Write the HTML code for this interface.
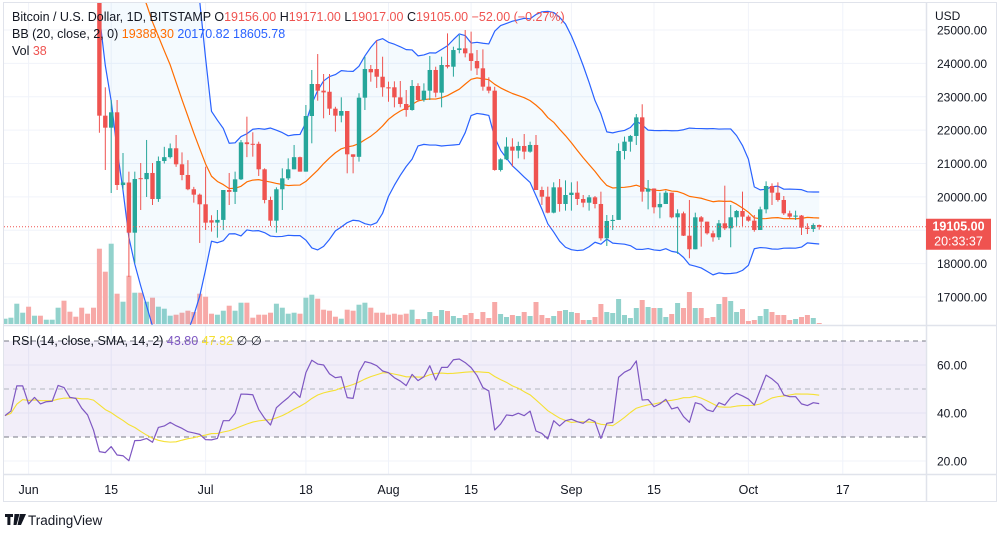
<!DOCTYPE html>
<html><head><meta charset="utf-8"><title>BTCUSD chart</title>
<style>
html,body{margin:0;padding:0;background:#fff;}
body{width:1006px;height:537px;overflow:hidden;font-family:"Liberation Sans",sans-serif;}
svg text{font-family:"Liberation Sans",sans-serif;}
</style></head>
<body>
<svg id="chart" width="1006" height="537" viewBox="0 0 1006 537" xmlns="http://www.w3.org/2000/svg">
  <defs>
    <clipPath id="pricePane"><rect x="4" y="3" width="922" height="322"/></clipPath>
    <clipPath id="rsiPane"><rect x="4" y="327" width="922" height="147"/></clipPath>
  </defs>
  <g id="grid"></g>
  <g id="rsiBand"></g>
  <g id="volumes" clip-path="url(#pricePane)"></g>
  <g id="bb" clip-path="url(#pricePane)"></g>
  <g id="candles" clip-path="url(#pricePane)"></g>
  <g id="rsi" clip-path="url(#rsiPane)"></g>
  <g id="axes"></g>
  <g id="legend">
    <text x="12" y="21" font-size="12.5" fill="#131722">Bitcoin / U.S. Dollar, 1D, BITSTAMP <tspan fill="#131722">O</tspan><tspan fill="#ef5350">19156.00</tspan><tspan fill="#131722"> H</tspan><tspan fill="#ef5350">19171.00</tspan><tspan fill="#131722"> L</tspan><tspan fill="#ef5350">19017.00</tspan><tspan fill="#131722"> C</tspan><tspan fill="#ef5350">19105.00  −52.00 (−0.27%)</tspan></text>
    <text x="12" y="38" font-size="12.5" fill="#131722">BB (20, close, 2, 0) <tspan fill="#ff6d00">19388.30</tspan> <tspan fill="#2962ff">20170.82</tspan> <tspan fill="#2962ff">18605.78</tspan></text>
    <text x="12" y="55" font-size="12.5" fill="#131722">Vol <tspan fill="#ef5350">38</tspan></text>
    <text x="12" y="345" font-size="12.5" fill="#131722">RSI (14, close, SMA, 14, 2) <tspan fill="#7e57c2">43.80</tspan> <tspan fill="#f5e033">47.32</tspan> <tspan fill="#131722">∅ ∅</tspan></text>
  </g>
  <g>
    <path d="M5 514h8v3h-2.6v8h-3v-8H5z M14.5 514h5l-3 11h-3z M20 514h6l-5 11h-3.5z" fill="#131722"/>
    <text x="28" y="525" font-size="13.5" fill="#131722">TradingView</text>
  </g>
</svg>
<script>
// ---- data (daily, starting 2022-05-28) ----
const historyCloses = [30100,31000,29100,29000,29300,30100,31300,29900,30400,28700,30300,29200,29400,30300,29100,29600,29500,29200,28600];
const opens = [28600,29000,29400,31700,31800,29800,30400,29700,29850,29900,31400,31100,30200,30100,29100,28400,
26600,22433,22073,22534,20356,20430,18927,20560,20530,20716,19937,21075,21190,21456,20976,20656,20228,20066,
19778,19300,19230,19310,20206,20150,20526,21634,21590,21590,20826,19907,19287,20228,20556,20826,21190,
20756,22423,23382,23182,23150,22643,22433,22573,21275,21200,22972,23832,23830,23600,23283,23283,22982,22783,22603,
23322,22903,23182,23802,23122,23951,23900,24400,24450,24301,24071,23852,23302,23182,20806,21125,21505,21385,21525,21355,21555,
20206,20006,19527,20286,19787,20056,20126,19937,19826,19987,19787,18759,19277,19310,21375,21654,21825,22383,
20156,20250,19688,19787,20126,19388,19507,18837,18430,19388,19258,18908,18789,19208,19058,19388,19577,
19407,19287,19008,19627,20326,20126,19907,19507,19407,19440,19077,19038,19156];
const highs = [29200,29500,32200,32300,31900,30600,30600,29900,30100,31700,31500,31300,30600,30300,29400,28500,
26900,23283,22903,22903,21315,20756,20756,21015,21705,21015,21210,21500,21600,21855,21335,21100,20300,20100,
20905,19450,19607,20206,20716,20756,21705,22403,21935,21654,20856,20006,20286,20855,21155,21555,21205,
22753,23802,24280,23682,23682,22700,22983,22573,21275,23103,24200,23951,24700,24200,23452,23462,23472,23202,23502,
23403,23402,24221,23901,24200,24900,24500,24850,25000,24950,24400,24420,23583,23300,21155,21785,21755,21654,21884,21654,
21855,20306,20306,20436,20536,20496,20436,20466,20056,20056,20026,20156,19457,19457,21605,21805,21855,22483,
22775,20506,20256,20126,20186,20126,19627,19557,19907,19527,19427,19258,18987,19308,20336,19757,19607,
20156,19450,19457,19707,20466,20406,20436,20026,19587,19587,19457,19208,19208,19171];
const lows = [28500,28800,29300,31200,29500,29600,29500,29500,29500,29900,29300,29900,29900,28900,28200,26600,
21923,20806,20116,20206,20206,17600,18020,19607,19997,19757,19850,21000,21150,20900,20500,20200,19826,18619,
19008,18957,18777,19008,19757,19787,20506,21191,21205,20626,19807,19127,18927,19607,20506,20826,20756,
20756,21605,22882,22354,22453,21955,22234,20706,20706,21055,22603,23452,23263,23002,22852,22683,22683,22403,22583,
22852,22852,22903,22983,22683,23852,23602,24301,24181,23782,23652,23182,23103,20785,20760,21100,20906,21155,21125,21325,
20206,19757,19507,19507,19557,19587,19587,19757,19688,19587,19657,18689,18529,19008,19310,21125,21355,21555,
19857,19627,19507,19358,19787,19358,18290,18827,18161,18430,18509,18870,18659,18709,19008,18490,19128,
19128,19257,18957,19008,19507,19757,19857,19457,19358,19308,18857,18887,18950,19017];
const closes = [29000,29400,31700,31800,29800,30400,29700,29850,29900,31400,31100,30200,30100,29100,28400,26600,
22433,22073,22534,20356,20430,18927,20536,20530,20716,19937,21075,21190,21456,20976,20656,20228,20066,19778,
19227,19230,19310,20206,20150,20526,21634,21580,21580,20826,19907,19287,20228,20556,20826,21190,20756,
22423,23382,23182,23130,22643,22433,22573,21275,21200,22972,23832,23732,23600,23283,23250,22982,22783,22603,23322,
22903,23182,23802,23122,23951,23900,24400,24450,24301,24071,23852,23302,23182,20806,21125,21505,21385,21525,21355,21555,20206,
20006,19527,20286,19787,20056,20126,19937,19826,19987,19787,18759,19277,19310,21375,21654,21825,22383,20156,
20250,19688,19787,20126,19388,19507,18837,18430,19388,19258,18908,18789,19208,19058,19388,19577,19407,
19287,19008,19627,20326,20126,19907,19507,19407,19440,19077,19038,19156,19105];
const volumes = [5.3,6.3,20.3,11.3,17.3,8.3,8.3,4.3,4.3,16.3,23.3,12.3,7.3,16.3,10.3,16.3,
75.3,52.3,80.3,30.3,22.3,48.3,31.3,31.3,22.3,26.3,17.3,15.3,8.3,9.3,11.3,13.3,12,30.3,
27.3,10.3,9.3,13.3,18.3,13.3,21.3,21.3,6.3,9.3,9.3,11.3,20.3,16.3,10.3,11.3,10.3,26.3,29.3,25.3,14.3,13.3,7.3,5.3,14.3,13.3,19.3,21.3,16.3,11.3,11.3,9.3,10.3,9.3,10.3,14.3,
5,5,12,8,14,13,8,6,9,11,5,12,6,22,10,7,9,8,12,8,22,9,6,8,13,14,12,11,4,4,7,20,12,11,25,9,6,16,24,17,16,16,7,10,21,16,32,16,16,6,7,20,27,23,12,15,3,4,8,15,12,9,9,4,5,7,9,6,1];
const rsiValues = [38.9,40.8,51.3,51.3,43.8,46.5,43.8,44.7,44.9,51.5,50.6,46.5,46.1,42.0,39.2,32.9,23.9,23.5,26.0,22.5,
22.2,20.1,28.5,28.6,29.4,27.8,34.0,34.6,36.1,34.7,33.6,32.2,31.7,31.1,28.9,28.8,29.4,36.8,36.8,39.9,
47.9,47.8,47.6,41.5,37.8,35.0,42.2,44.4,46.4,48.9,46.5,56.8,62.0,60.4,60.0,56.3,54.7,55.1,46.4,46.1,
57.0,61.4,60.8,59.7,57.5,56.8,54.7,53.3,51.4,56.1,53.5,
55.1,59.7,53.7,59.0,59.0,62.2,62.5,61.0,58.9,55.6,50.6,49.2,32.9,35.4,39.2,38.9,39.9,38.9,40.8,32.5,
31.5,29.2,36.8,34.6,36.8,37.4,36.4,35.7,37.5,36.4,29.4,35.7,36.1,54.9,57.0,58.2,61.7,45.4,45.6,42.6,
43.8,45.7,41.7,42.4,38.5,36.1,44.3,43.6,41.3,40.6,44.3,43.3,46.4,48.2,47.1,45.8,43.3,49.6,55.8,54.2,
52.1,47.5,46.8,46.8,43.8,43.1,44.3,43.9];
const priceTicks = [25000,24000,23000,22000,21000,20000,19000,18000,17000];
const priceTickLabels = ["25000.00","24000.00","23000.00","22000.00","21000.00","20000.00","","18000.00","17000.00"];
const rsiTicks = [60,40,20];
const rsiTickLabels = ["60.00","40.00","20.00"];
const timeTickDays = [0,14,30,47,61,75,92,106,122,138];
const timeTickLabels = ["Jun","15","Jul","18","Aug","15","Sep","15","Oct","17"];

// ---- scales ----
const firstDay = -4; // index 0 = May 28 (day -4 from Jun 1)
function xDay(d){ return 28.6 + 5.9*d; }
function xi(i){ return xDay(i + firstDay); }
function yP(p){ return 30 + (25000 - p)*0.033375; }
function yR(v){ return 365 + (60 - v)*2.4; }
function yV(v){ return 324 - v*1.0; }

const NS = "http://www.w3.org/2000/svg";
function mk(tag, attrs, parent){
  const e = document.createElementNS(NS, tag);
  for (const k in attrs) e.setAttribute(k, attrs[k]);
  parent.appendChild(e); return e;
}
const UP = "#26a69a", DN = "#ef5350";

// ---- grid ----
const grid = document.getElementById('grid');
timeTickDays.forEach(d=>{
  const gl = mk('line',{x1:xDay(d),x2:xDay(d),y1:3,y2:474,stroke:'#f0f3fa','stroke-width':1},grid);
  
  
});
priceTicks.forEach(p=>{
  const gl = mk('line',{x1:4,x2:926,y1:yP(p),y2:yP(p),stroke:'#f0f3fa','stroke-width':1},grid);
  
  
});
rsiTicks.forEach(v=>{
  const gl = mk('line',{x1:4,x2:926,y1:yR(v),y2:yR(v),stroke:'#f0f3fa','stroke-width':1},grid);
  
  
});

// ---- RSI band ----
const band = document.getElementById('rsiBand');
const bandRect = mk('rect',{x:4,y:yR(70),width:922,height:yR(30)-yR(70),fill:'#7e57c2','fill-opacity':0.1},band);


[[70,'#787b86'],[50,'#b2b5be'],[30,'#787b86']].forEach(([v,c])=>{
  const l = mk('line',{x1:4,x2:926,y1:yR(v),y2:yR(v),stroke:c,'stroke-width':1,'stroke-dasharray':'5,4'},band);
  
  
});

// ---- volumes ----
const vg = document.getElementById('volumes');
volumes.forEach((v,i)=>{
  const up = closes[i] >= opens[i];
  const r = mk('rect',{x:xi(i)-2.5,y:yV(v),width:5,height:324-yV(v),fill:up?'#92d2cc':'#f7a9a7'},vg);
  
  
});

// ---- Bollinger bands (computed from closes) ----
const all = historyCloses.concat(closes);
const off = historyCloses.length;
const basis=[], upper=[], lower=[];
for (let i=0;i<closes.length;i++){
  const j = i+off;
  const start = Math.max(0, j-19);
  const w = all.slice(start, j+1);
  const m = w.reduce((a,b)=>a+b,0)/w.length;
  const sd = Math.sqrt(w.reduce((a,b)=>a+(b-m)*(b-m),0)/w.length);
  basis.push(m); upper.push(m+2*sd); lower.push(m-2*sd);
}
const bb = document.getElementById('bb');
let fillPts = upper.map((u,i)=>xi(i)+','+yP(u)).concat(lower.map((l,i)=>xi(i)+','+yP(l)).reverse());
const fillEl = mk('polygon',{points:fillPts.join(' '),fill:'#2196f3','fill-opacity':0.05},bb);


function line(arr, yf, color, name, parent, w){
  const el = mk('polyline',{points:arr.map((v,i)=>xi(i)+','+yf(v)).join(' '),fill:'none',stroke:color,'stroke-width':w||1.2,'stroke-linejoin':'round'},parent);
  
  
  return el;
}
line(upper,yP,'#2962ff','bb-upper',bb);
line(lower,yP,'#2962ff','bb-lower',bb);
line(basis,yP,'#ff6d00','bb-basis',bb);

// ---- candles ----
const cg = document.getElementById('candles');
closes.forEach((c,i)=>{
  const o = opens[i], up = c >= o, col = up?UP:DN, x = xi(i);
  const g = mk('g',{},cg);
  
  
  mk('line',{x1:x,x2:x,y1:yP(highs[i]),y2:yP(lows[i]),stroke:col,'stroke-width':1},g);
  const top = yP(Math.max(o,c)), h = Math.max(1, Math.abs(yP(o)-yP(c)));
  mk('rect',{x:x-2.2,y:top,width:4.4,height:h,fill:col},g);
});

// ---- current price line ----
const ax = document.getElementById('axes');
const last = closes[closes.length-1];
const pl = mk('line',{x1:4,x2:926,y1:yP(last),y2:yP(last),stroke:DN,'stroke-width':1,'stroke-dasharray':'1,2'},ax);



// ---- RSI ----
const rg = document.getElementById('rsi');
const rsiSma = rsiValues.map((v,i)=>{
  const w = rsiValues.slice(Math.max(0,i-13), i+1);
  return w.reduce((a,b)=>a+b,0)/w.length;
});
line(rsiSma,yR,'#f5e033','rsi-sma-line',rg,1.1);
line(rsiValues,yR,'#7e57c2','rsi-line',rg,1.2);

// ---- frame & axes ----
const frame = mk('rect',{x:3.5,y:2.5,width:993,height:499,fill:'none',stroke:'#e0e3eb','stroke-width':1},ax);


[[926.5,2.5,926.5,501.5],[3.5,325.5,996.5,325.5],[3.5,474.5,996.5,474.5]].forEach(a=>{
  const l = mk('line',{x1:a[0],y1:a[1],x2:a[2],y2:a[3],stroke:'#e0e3eb','stroke-width':1.5},ax);
  
  
});
const usd = mk('text',{x:935,y:20,'font-size':12,fill:'#131722'},ax);
usd.textContent = 'USD';


priceTicks.forEach((p,k)=>{
  if(!priceTickLabels[k]) return;
  const t = mk('text',{x:937,y:yP(p)+4.5,'font-size':12,fill:'#131722'},ax);
  t.textContent = priceTickLabels[k];
  
  
});
rsiTicks.forEach((v,k)=>{
  const t = mk('text',{x:937,y:yR(v)+4.5,'font-size':12,fill:'#131722'},ax);
  t.textContent = rsiTickLabels[k];
  
  
});
timeTickDays.forEach((d,k)=>{
  const t = mk('text',{x:xDay(d),y:494,'font-size':12.5,fill:'#131722','text-anchor':'middle'},ax);
  t.textContent = timeTickLabels[k];
  
  
});
// price badge
const badge = mk('g',{},ax);


const by = yP(last);
mk('rect',{x:926,y:by-8,width:65,height:31,fill:DN},badge);
const bt1 = mk('text',{x:958.5,y:by+4,'font-size':12.5,'font-weight':'bold',fill:'#fff','text-anchor':'middle'},badge);
bt1.textContent = last.toFixed(2);
const bt2 = mk('text',{x:958.5,y:by+19,'font-size':12.5,fill:'#fff','text-anchor':'middle'},badge);
bt2.textContent = '20:33:37';
</script>
</body></html>
